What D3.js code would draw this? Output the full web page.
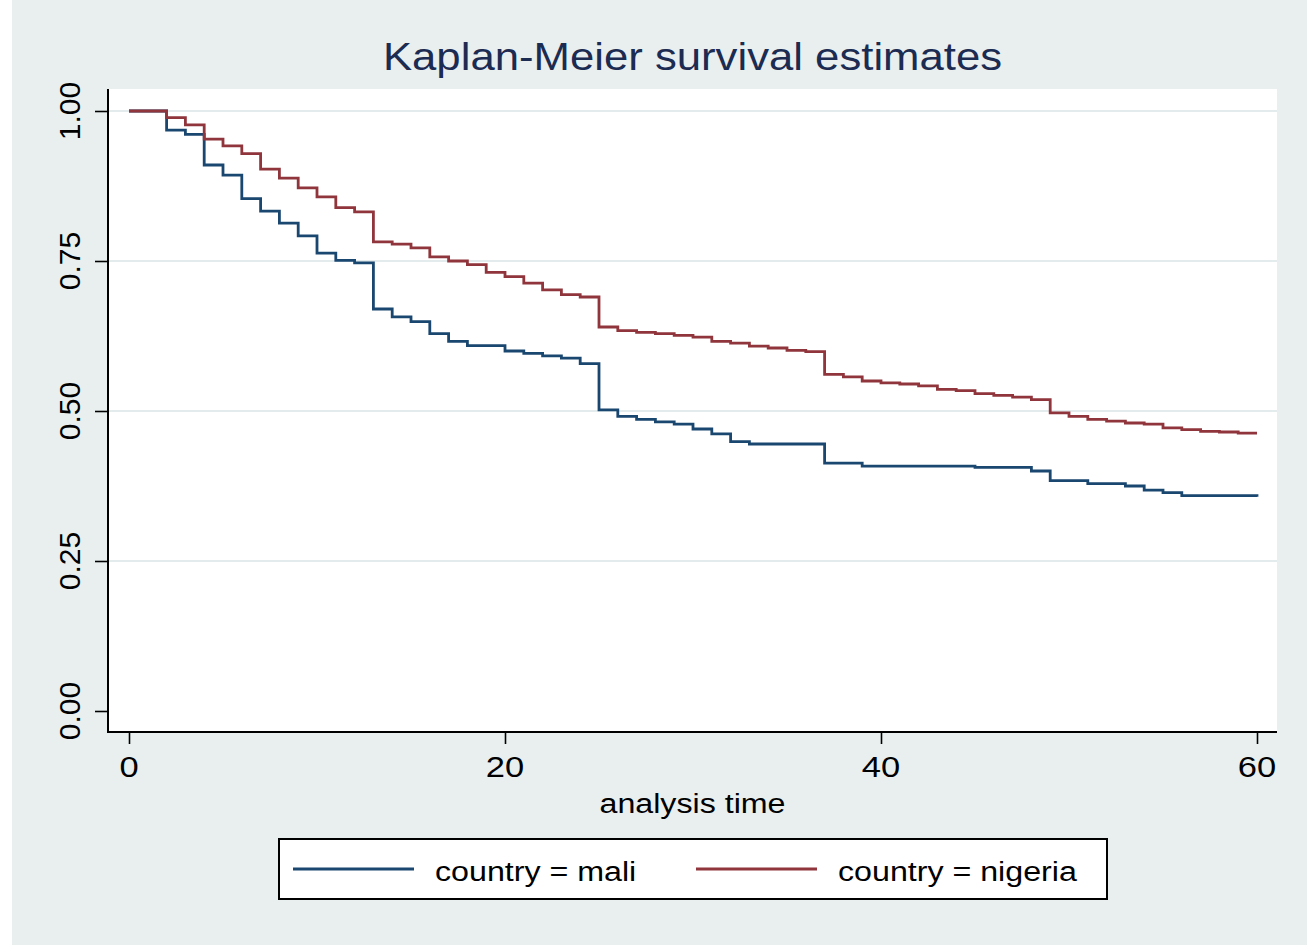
<!DOCTYPE html>
<html>
<head>
<meta charset="utf-8">
<script src="https://cdn.jsdelivr.net/npm/d3@7"></script>
<style>
  html, body { margin: 0; padding: 0; background: #ffffff; }
  svg { display: block; }
  text { font-family: "Liberation Sans", Arial, Helvetica, sans-serif; }
</style>
</head>
<body>
<svg id="chart" width="1307" height="945"></svg>
<script>
// ---- data ----
const titleText = "Kaplan-Meier survival estimates";
const xLabel = "analysis time";
const seriesNames = ["country = mali", "country = nigeria"];

const maliTime = [0, 2, 3, 4, 5, 6, 7, 8, 9, 10, 11, 12, 13, 14, 15, 16, 17, 18, 20, 21, 22, 23, 24, 25, 26, 27, 28, 29, 30, 31, 32, 33, 37, 39, 45, 48, 49, 51, 53, 54, 55, 56, 60];
const maliSurv = [1.000, 0.968, 0.961, 0.910, 0.893, 0.854, 0.833, 0.813, 0.792, 0.763, 0.751, 0.747, 0.670, 0.657, 0.649, 0.629, 0.616, 0.609, 0.600, 0.596, 0.592, 0.588, 0.579, 0.502, 0.491, 0.486, 0.482, 0.478, 0.470, 0.462, 0.449, 0.445, 0.413, 0.408, 0.406, 0.400, 0.384, 0.379, 0.375, 0.368, 0.364, 0.359, 0.357];

const nigeriaTime = [0, 2, 3, 4, 5, 6, 7, 8, 9, 10, 11, 12, 13, 14, 15, 16, 17, 18, 19, 20, 21, 22, 23, 24, 25, 26, 27, 28, 29, 30, 31, 32, 33, 34, 35, 36, 37, 38, 39, 40, 41, 42, 43, 44, 45, 46, 47, 48, 49, 50, 51, 52, 53, 54, 55, 56, 57, 58, 59, 60];
const nigeriaSurv = [1.000, 0.989, 0.977, 0.953, 0.942, 0.929, 0.903, 0.888, 0.872, 0.857, 0.839, 0.832, 0.782, 0.778, 0.772, 0.757, 0.750, 0.744, 0.731, 0.724, 0.713, 0.702, 0.694, 0.690, 0.640, 0.634, 0.631, 0.629, 0.626, 0.623, 0.616, 0.613, 0.608, 0.605, 0.601, 0.599, 0.561, 0.557, 0.550, 0.547, 0.545, 0.542, 0.536, 0.534, 0.529, 0.526, 0.523, 0.519, 0.497, 0.491, 0.486, 0.483, 0.480, 0.478, 0.472, 0.469, 0.466, 0.465, 0.463, 0.463];

const xTicks = [0, 20, 40, 60];
const yTicks = [0, 0.25, 0.5, 0.75, 1];
const yTickLabels = ["0.00", "0.25", "0.50", "0.75", "1.00"];
const gridTicks = [0.25, 0.5, 0.75, 1];

// ---- styles / layout ----
const colors = ["#1a476f", "#90353b"];
const bg = "#e9efef";
const gridColor = "#e3ebed";
const titleColor = "#1c2b52";
const stretch = 1.15;

const plot = { left: 108, right: 1277, top: 89, bottom: 732 };

const svg = d3.select("#chart");
svg.append("rect").attr("x", 0).attr("y", 0).attr("width", 1307).attr("height", 945).attr("fill", "#ffffff");
svg.append("rect").attr("x", 12).attr("y", 0).attr("width", 1295).attr("height", 945).attr("fill", bg);
svg.append("rect").attr("x", plot.left).attr("y", plot.top)
  .attr("width", plot.right - plot.left).attr("height", plot.bottom - plot.top).attr("fill", "#ffffff");

const x = d3.scaleLinear().domain([0, 60]).range([129, 1257]);
const y = d3.scaleLinear().domain([0, 1]).range([711, 111]);

// gridlines
svg.append("g").selectAll("line").data(gridTicks).join("line")
  .attr("x1", plot.left).attr("x2", plot.right)
  .attr("y1", d => y(d)).attr("y2", d => y(d))
  .attr("stroke", gridColor).attr("stroke-width", 2);

// series
const series = [
  { name: seriesNames[0], t: maliTime, s: maliSurv, color: colors[0] },
  { name: seriesNames[1], t: nigeriaTime, s: nigeriaSurv, color: colors[1] }
];
const line = d3.line().x(d => x(d[0])).y(d => y(d[1])).curve(d3.curveStepAfter);
series.forEach(sr => {
  const pts = sr.t.map((t, i) => [t, sr.s[i]]);
  svg.append("path").datum(pts)
    .attr("d", line)
    .attr("fill", "none")
    .attr("stroke", sr.color)
    .attr("stroke-width", 2.8)
    .attr("stroke-linejoin", "miter")
    .attr("stroke-linecap", "butt");
});

// axes
const xAxisG = svg.append("g").attr("transform", `translate(0,${plot.bottom})`)
  .call(d3.axisBottom(x).tickValues(xTicks).tickSize(12).tickFormat(""));
xAxisG.select(".domain").remove();
xAxisG.selectAll("line").attr("stroke", "#000").attr("stroke-width", 1.6);

const yAxisG = svg.append("g").attr("transform", `translate(${plot.left},0)`)
  .call(d3.axisLeft(y).tickValues(yTicks).tickSize(13).tickFormat(""));
yAxisG.select(".domain").remove();
yAxisG.selectAll("line").attr("stroke", "#000").attr("stroke-width", 1.6);

svg.append("line").attr("x1", plot.left).attr("x2", plot.left)
  .attr("y1", plot.top).attr("y2", plot.bottom + 1)
  .attr("stroke", "#000").attr("stroke-width", 2);
svg.append("line").attr("x1", plot.left - 1).attr("x2", plot.right)
  .attr("y1", plot.bottom).attr("y2", plot.bottom)
  .attr("stroke", "#000").attr("stroke-width", 2);

// tick labels
xTicks.forEach(v => {
  svg.append("text")
    .attr("transform", `translate(${x(v)},777) scale(${stretch},1)`)
    .attr("text-anchor", "middle").attr("font-size", 30).attr("fill", "#000")
    .text(String(v));
});
yTicks.forEach((v, i) => {
  svg.append("text")
    .attr("transform", `translate(80,${y(v)}) rotate(-90)`)
    .attr("text-anchor", "middle").attr("font-size", 30).attr("fill", "#000")
    .text(yTickLabels[i]);
});

// title and axis title
svg.append("text")
  .attr("transform", `translate(692.5,70) scale(${stretch},1)`)
  .attr("text-anchor", "middle").attr("font-size", 38).attr("fill", titleColor)
  .text(titleText);
svg.append("text")
  .attr("transform", `translate(692.5,813) scale(${stretch},1)`)
  .attr("text-anchor", "middle").attr("font-size", 28).attr("fill", "#000")
  .text(xLabel);

// legend
svg.append("rect").attr("x", 279).attr("y", 839).attr("width", 828).attr("height", 60)
  .attr("fill", "#ffffff").attr("stroke", "#000").attr("stroke-width", 2);
const legendLineX = [293, 696];
const legendTextX = [435, 838];
series.forEach((sr, i) => {
  svg.append("line")
    .attr("x1", legendLineX[i]).attr("x2", legendLineX[i] + 121)
    .attr("y1", 869).attr("y2", 869)
    .attr("stroke", sr.color).attr("stroke-width", 2.8);
  svg.append("text")
    .attr("transform", `translate(${legendTextX[i]},881) scale(${stretch},1)`)
    .attr("text-anchor", "start").attr("font-size", 28).attr("fill", "#000")
    .text(sr.name);
});
</script>
</body>
</html>
